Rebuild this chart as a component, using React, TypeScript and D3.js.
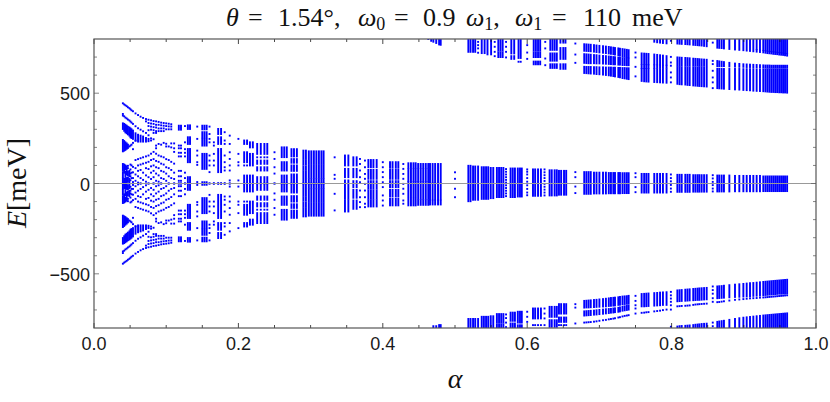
import React from "react";
import { scaleLinear } from "d3";

type Level = number | [number, number];
type Block = [number[], Level[]];

const xTicks = [0, 0.2, 0.4, 0.6, 0.8, 1];
const xMinor = [0.05, 0.1, 0.15, 0.25, 0.3, 0.35, 0.45, 0.5, 0.55, 0.65, 0.7, 0.75, 0.85, 0.9, 0.95];
const yTicks = [-500, 0, 500];
const yMinor = [-700, -600, -400, -300, -200, -100, 100, 200, 300, 400, 600, 700];

// butterfly part, alpha < 1/3, only E >= 0 is listed, the lower half is the mirror
const wing: Block[] = [
  [[0.04], [444, 385, 376, [333, 302], [241, 178], [108, 70], [60, 35], [28, 0]]],
  [[0.0418], [438, 372, [330, 292], [235, 182], [105, 60], [25, 0]]],
  [[0.0435], [433, 365, [325, 283], [228, 186], [100, 80], [65, 40], [30, 0]]],
  [[0.0453], [428, 360, [320, 278], [222, 192], [95, 50], [30, 5]]],
  [[0.047], [422, 354, [314, 272], [215, 197], 98, 85, [65, 45], [32, 10]]],
  [[0.049], [417, 349, [310, 265], 205, [70, 40], [25, 5]]],
  [[0.0505], [411, 343, [305, 256], 210, 105, 78, 55, 40, 18]],
  [[0.052], [405, 337, [300, 252], 215, 100, 60, 30]],
  [[0.054], [400, 330, [293, 247], 225, 190, 92, 62, 30, 8]],
  [[0.0575], [388, 317, [278, 238], 237, 130, 85, 50, 15]],
  [[0.061], [379, 306, [270, 232], 135, 100, 70, 40, 5]],
  [[0.0645], [370, 298, [265, 232], 140, 105, 75, 30, 0]],
  [[0.068], [363, 289, [260, 232], 145, 110, 60, 20]],
  [[0.072], [357, 344, 280, [252, 232], 150, 115, 85, 45, 10]],
  [[0.0755], [353, 335, 318, 295, 267, [247, 234], 155, 120, 80, 35, 0]],
  [[0.079], [350, 332, 315, 298, 250, 238, 165, 130, 95, 60, 25]],
  [[0.0825], [346, 330, 312, 295, 280, 245, 175, 135, 100, 70, 35, 0]],
  [[0.086], [344, 325, 310, 290, 280, 210, 195, 165, 125, 90, 55, 15]],
  [[0.0895], [341, 325, 305, 290, 219, 155, 120, 85, 45, 10]],
  [[0.093], [337, 322, 305, 290, 215, 150, 110, 70, 30, 0]],
  [[0.0965], [335, 320, 305, 290, 225, 145, 105, 65, 25]],
  [[0.1], [333, 318, 300, 220, 205, 135, 90, 55, 15]],
  [[0.1035], [331, 316, 300, 205, 130, 85, 40, 0]],
  [[0.107], [328, 315, 300, 222, 200, 120, 75, 30]],
  [[0.111], [222, 195, 175, 110, 60, 25, 0]],
  [[0.1175, 0.1205], [[320, 298], 210, 195, 170, 150, 70, 40, 15, 0]],
  [[0.126], [318, 228, 190, 170, 150, 60, 30, 0]],
  [[0.13, 0.133], [[322, 302], [256, 219], [191, 118], [35, 0]]],
  [[0.143], [315, 247, 182, 155, 118, 103, 8]],
  [[0.15, 0.153, 0.156], [[320, 300], [284, 256], [247, 210], [164, 81], 7]],
  [[0.16], [315, 274, 247, 228, 155, 127, 100, 63, 0]],
  [[0.166], [228, 210, 164, 127, 100, 2]],
  [[0.172, 0.176], [[302, 274], [256, 219], [191, 63], 2]],
  [[0.181], [284, 238, 219, 155, 118, 90, 72, 2]],
  [[0.188], [265, 219, 173, 136, 100, 72, 17, 0]],
  [[0.2], [247, 164, 118, 100, 17]],
  [[0.208, 0.212], [[238, 219], [173, 118], 100, [44, 0]]],
  [[0.216, 0.22], [[228, 200], [164, 100], [44, 0]]],
  [[0.226, 0.231, 0.236, 0.24], [[219, 164], 145, [127, 109], [90, 72], [35, 0]]],
  [[0.25], [173, 136, 90, 55, 0]],
  [[0.26, 0.2635, 0.267], [[200, 146], [118, 72], [44, 0]]],
  [[0.2735, 0.277, 0.281], [[190, 150], [135, 115], [100, 70], [50, 0]]],
  [[0.29, 0.2935], [[182, 140], [130, 105], [95, 75], [65, 0]]],
  [[0.2975, 0.301, 0.3045, 0.308, 0.3115, 0.315, 0.318], [[178, 108], [98, 32], [24, 0]]],
];

const center: Block[] = [
  [[0.3333], [145, 48, 26, -57, -149]],
  [[0.3476, 0.3523], [[155, 100], [81, 35], [17, -20], [-30, -85], [-94, -155]]],
  [[0.3592, 0.3638], [[145, 100], [81, 35], [13, -20], [-35, -79], [-94, -140]]],
  [[0.3684], [136, 108, 72, 35, 7, -39, -76, -103, -131]],
  [[0.3753], [127, 90, 53, 26, -2, -39, -76, -112, -131]],
  [[0.38, 0.3835, 0.387, 0.3915], [[130, 90], [75, 26], [13, -29], [-39, -85], [-94, -127]]],
  [[0.4], [118, 90, 63, 35, 7, -20, -66, -94, -122]],
  [[0.41, 0.4135, 0.418, 0.4215], [[118, 87], [75, 26], [13, -20], [-35, -72], [-85, -121]]],
  [[0.4284], [108, 81, 53, 26, -2, -29, -57, -94, -112]],
  [[0.4354, 0.439, 0.4425, 0.4455], [[112, 86], [78, 15], [8, -75], [-85, -121]]],
  [[0.449, 0.4525, 0.456, 0.4595, 0.463], [[108, 86], [78, 15], [8, -85], [-93, -118]]],
  [[0.4654, 0.469, 0.4725, 0.4765, 0.4802], [[108, 8], [0, -88], [-95, -116]]],
  [[0.5], [62, 26, -29, -76]],
  [[0.5185, 0.5215], [[98, 5], [-5, -98]]],
  [[0.525, 0.528, 0.532], [[94, 5], [-5, -90]]],
  [[0.537, 0.54, 0.543, 0.546], [[90, 3], [-3, -85]]],
  [[0.5495, 0.553], [[86, 3], [-3, -81]]],
  [[0.558, 0.561, 0.564, 0.567], [[86, 5], [-5, -75]]],
  [[0.5707], [80, 65, 50, 35, 20, 5, -10, -25, -40, -55, -70]],
  [[0.577, 0.58, 0.583], [[83, -75]]],
  [[0.587, 0.59, 0.5925], [[83, -72]]],
  [[0.6], [78, 65, 50, 30, 10, -10, -30, -50, -65]],
  [[0.608, 0.611, 0.615, 0.619], [[78, -68]]],
  [[0.624], [78, 62, 46, 30, 14, -2, -18, -34, -50, -66]],
  [[0.631, 0.634, 0.638, 0.641], [[73, -66]]],
  [[0.644, 0.647, 0.651, 0.654], [[70, -62]]],
  [[0.6667], [63, 35, -17, -53]],
  [[0.679, 0.682, 0.685, 0.688], [[63, -57]]],
  [[0.6925, 0.696, 0.7, 0.705, 0.709], [[60, -55]]],
  [[0.713, 0.716, 0.7193, 0.7216, 0.7262, 0.7285], [[58, -54]]],
  [[0.732, 0.735, 0.738, 0.7405], [[57, -53]]],
  [[0.75], [57, 35, -20, -48]],
  [[0.7585, 0.762, 0.765, 0.768, 0.776, 0.78, 0.784, 0.788, 0.793], [[53, -50]]],
  [[0.799], [50, 30, 12, -8, -28, -46]],
  [[0.808, 0.811, 0.814, 0.819, 0.822, 0.825], [[48, -46]]],
  [[0.83, 0.833, 0.836, 0.8385, 0.8416, 0.845, 0.8486], [[46, -45]]],
  [[0.857], [46, 28, 9, -9, -28, -44]],
  [[0.8633, 0.866, 0.8693, 0.8725, 0.88], [[44, -44]]],
  [[0.8878, 0.8938, 0.8994, 0.904, 0.9086, 0.9132, 0.9178, 0.9224], [[42, -43]]],
  [[0.927, 0.93, 0.9327, 0.9354, 0.9381, 0.9408, 0.9435, 0.9462, 0.949, 0.9517, 0.9544, 0.9571, 0.96], [[39, -42]]],
];

const upper: Block[] = [
  [[0.463], [800]],
  [[0.467], [[800, 790]]],
  [[0.47], [[800, 785]]],
  [[0.474], [[800, 778]]],
  [[0.478], [[800, 770]]],
  [[0.4802], [[800, 768]]],
  [[0.5185, 0.5215, 0.525, 0.528], [[800, 729]]],
  [[0.532], [784, 766, 748, 724]],
  [[0.537, 0.541], [[800, 722]]],
  [[0.545, 0.55], [[800, 715]]],
  [[0.555], [784, 757, 729, 705]],
  [[0.56, 0.563, 0.566], [[800, 735], [725, 700]]],
  [[0.5707], [784, 757, 729, 698]],
  [[0.578, 0.582], [[795, 720], [705, 690]]],
  [[0.588, 0.591], [[800, 695], 674]],
  [[0.6], [766, 725, 690]],
  [[0.609, 0.612, 0.615, 0.618], [[795, 735], [725, 700], [675, 660]]],
  [[0.625], [784, 748, 692, 655]],
  [[0.632, 0.635, 0.638, 0.641], [[800, 740], [720, 680], [660, 640]]],
  [[0.646, 0.65, 0.653], [[800, 780], [750, 690], [660, 635]]],
  [[0.6667], [775, 714, 668]],
  [[0.679], [[771, 735], [716, 668], [646, 612]]],
  [[0.682], [[770, 734], [715, 667], [645, 611]]],
  [[0.685], [[769, 733], [714, 666], [645, 610]]],
  [[0.688], [[768, 732], [713, 666], [645, 609]]],
  [[0.6925], [[766, 730], [711, 666], [644, 608]]],
  [[0.696], [[764, 728], [710, 665], [644, 606]]],
  [[0.7], [[762, 726], [708, 665], [643, 605]]],
  [[0.705], [[760, 724], [706, 664], [643, 603]]],
  [[0.709], [[758, 722], [705, 663], [642, 601]]],
  [[0.713], [[756, 720], [703, 662], [642, 599]]],
  [[0.716], [[754, 718], [702, 661], [642, 597]]],
  [[0.7193], [[752, 716], [700, 660], [641, 595]]],
  [[0.7216], [[750, 714], [699, 660], [641, 593]]],
  [[0.7262], [[748, 710], [697, 658], [640, 590]]],
  [[0.7285], [[746, 708], [696, 658], [640, 588]]],
  [[0.732], [[744, 704], [694, 656], [639, 584]]],
  [[0.735], [[742, 702], [693, 656], [639, 582]]],
  [[0.738], [[740, 700], [692, 655], [638, 580]]],
  [[0.7405], [[738, 698], [691, 655], [638, 578]]],
  [[0.75], [725, 698, 646, 593]],
  [[0.7585], [[720, 662], [655, 640], [634, 568]]],
  [[0.762], [[719, 662], [655, 640], [634, 566]]],
  [[0.765], [[718, 661], [654, 640], [634, 565]]],
  [[0.768], [[717, 660], [654, 640], [633, 564]]],
  [[0.776], [[799, 785], [714, 660], [654, 640], [633, 562]]],
  [[0.78], [[799, 782], [712, 660], [653, 640], [632, 561]]],
  [[0.784], [[800, 780], [710, 659], [653, 640], [632, 560]]],
  [[0.788], [[800, 778], [708, 658], [652, 640], [632, 559]]],
  [[0.793], [[800, 776], [705, 658], [652, 640], [631, 558]]],
  [[0.799], [790, 701, 670, 652, 615, 587, 560]],
  [[0.808], [[800, 775], [698, 655], [645, 552]]],
  [[0.811], [[800, 774], [697, 655], [645, 550]]],
  [[0.814], [[800, 773], [696, 654], [644, 549]]],
  [[0.819], [[800, 772], [695, 654], [644, 548]]],
  [[0.822], [[800, 771], [694, 653], [643, 546]]],
  [[0.825], [[800, 770], [693, 653], [643, 545]]],
  [[0.83], [[800, 768], [691, 652], [642, 543]]],
  [[0.833], [[800, 767], [690, 652], [642, 542]]],
  [[0.836], [[800, 766], [689, 652], [641, 541]]],
  [[0.8385], [[800, 765], [688, 651], [641, 540]]],
  [[0.8416], [[800, 764], [687, 651], [641, 539]]],
  [[0.845], [[800, 762], [686, 651], [640, 538]]],
  [[0.8486], [[800, 760], [685, 650], [640, 537]]],
  [[0.857], [780, 679, 661, 624, 587, 560, 528]],
  [[0.8633], [[800, 752], [678, 650], [635, 528]]],
  [[0.866], [[800, 751], [676, 650], [635, 527]]],
  [[0.8693], [[800, 750], [674, 650], [635, 526]]],
  [[0.8725], [[800, 748], [672, 650], [634, 525]]],
  [[0.88], [[800, 745], [668, 648], [634, 523]]],
  [[0.8878], [[800, 742], [664, 647], [634, 521]]],
  [[0.8938], [[800, 740], [662, 646], [634, 520]]],
  [[0.8994], [[800, 738], [660, 646], [633, 518]]],
  [[0.904], [[800, 736], [659, 645], [633, 517]]],
  [[0.9086], [[800, 734], [658, 645], [633, 516]]],
  [[0.9132], [[800, 732], [657, 644], [633, 514]]],
  [[0.9178], [[800, 744], [738, 730], [656, 644], [632, 513]]],
  [[0.9224], [[800, 742], [736, 728], [655, 644], [632, 512]]],
  [[0.927], [[800, 740], [734, 726], [654, 643], [632, 511]]],
  [[0.93], [[800, 738], [732, 724], [653, 643], [632, 510]]],
  [[0.9327], [[800, 736], [730, 722], [653, 642], [632, 509]]],
  [[0.9354], [[800, 735], [729, 721], [653, 642], [632, 508]]],
  [[0.9381], [[800, 734], [728, 720], [652, 642], [632, 507]]],
  [[0.9408], [[800, 732], [726, 718], [652, 642], [632, 507]]],
  [[0.9435], [[800, 731], [725, 717], [652, 642], [632, 506]]],
  [[0.9462], [[800, 730], [724, 716], [652, 642], [632, 506]]],
  [[0.949], [[800, 728], [722, 714], [652, 642], [632, 505]]],
  [[0.9517], [[800, 727], [721, 713], [652, 642], [632, 505]]],
  [[0.9544], [[800, 726], [720, 712], [652, 642], [632, 504]]],
  [[0.9571], [[800, 724], [718, 710], [652, 642], [632, 504]]],
  [[0.96], [[800, 722], [716, 708], [652, 642], [632, 503]]],
];

const lower: Block[] = [
  [[0.47, 0.474], [[-790, -800]]],
  [[0.478, 0.4802], [[-784, -800]]],
  [[0.5185, 0.5215, 0.525, 0.528, 0.532], [[-750, -800]]],
  [[0.537, 0.54, 0.543, 0.546], [[-738, -800]]],
  [[0.5495, 0.553], [[-735, -800]]],
  [[0.558, 0.561, 0.564, 0.567], [[-723, -770], [-780, -800]]],
  [[0.5707], [-725, -745, -770, -795]],
  [[0.577, 0.58, 0.583], [[-715, -760], [-775, -800]]],
  [[0.587, 0.59, 0.5925], [[-710, -770], [-785, -800]]],
  [[0.6], [-710, -738, -766]],
  [[0.608, 0.611, 0.615, 0.619], [[-692, -747], -784]],
  [[0.624], [-692, -720, -747, -784]],
  [[0.631, 0.634, 0.638, 0.641], [[-683, -738], [-757, -793]]],
  [[0.644, 0.647, 0.651, 0.654], [[-668, -720], [-742, -766], -784]],
  [[0.6667], [-668, -687, -775]],
  [[0.679], [[-650, -687], [-708, -731], -770]],
  [[0.682], [[-649, -686], [-707, -730], -769]],
  [[0.685], [[-648, -686], [-706, -729], -768]],
  [[0.688], [[-647, -685], [-705, -728], -767]],
  [[0.6925], [[-645, -684], [-704, -726], -765]],
  [[0.696], [[-644, -683], [-702, -725], -763]],
  [[0.7], [[-642, -682], [-700, -723], -760]],
  [[0.705], [[-640, -681], [-698, -721], -757]],
  [[0.709], [[-638, -680], [-696, -719], -755]],
  [[0.713], [[-636, -678], [-695, -717], -752]],
  [[0.716], [[-634, -677], [-694, -715], -750]],
  [[0.7193], [[-633, -676], [-692, -714], -748]],
  [[0.7216], [[-632, -675], [-691, -712], -746]],
  [[0.7262], [[-630, -672], [-688, -710], -742]],
  [[0.7285], [[-628, -671], [-686, -708], -740]],
  [[0.732], [[-626, -668], [-682, -704], -736]],
  [[0.735], [[-625, -667], [-680, -702], -733]],
  [[0.738], [[-624, -666], [-678, -700], -731]],
  [[0.7405], [[-622, -665], [-676, -698], -729]],
  [[0.75], [-622, -650, -674, -692, -720]],
  [[0.7585], [[-612, -680], -716]],
  [[0.762], [[-611, -680], -715]],
  [[0.765], [[-610, -679], -713]],
  [[0.768], [[-609, -678], -712]],
  [[0.776], [[-607, -676], -708]],
  [[0.78], [[-606, -675], -706]],
  [[0.784], [[-604, -674], -704]],
  [[0.788], [[-603, -672], -701]],
  [[0.793], [[-602, -672], -698]],
  [[0.799], [-600, -619, -637, -655, -674, -698, -793]],
  [[0.808], [[-592, -652], -680, [-792, -800]]],
  [[0.811], [[-591, -651], -679, [-790, -800]]],
  [[0.814], [[-590, -650], -678, [-789, -800]]],
  [[0.819], [[-588, -649], -677, [-788, -800]]],
  [[0.822], [[-587, -648], -676, [-787, -800]]],
  [[0.825], [[-586, -647], -675, [-786, -800]]],
  [[0.83], [[-584, -646], -672, [-784, -800]]],
  [[0.833], [[-583, -645], -670, [-782, -800]]],
  [[0.836], [[-582, -644], -669, [-781, -800]]],
  [[0.8385], [[-581, -644], -668, [-780, -800]]],
  [[0.8416], [[-580, -643], -667, [-778, -800]]],
  [[0.845], [[-579, -642], -666, [-777, -800]]],
  [[0.8486], [[-578, -641], -665, [-776, -800]]],
  [[0.857], [-570, -590, -610, -635, -655, -770, -790]],
  [[0.8633], [[-570, -635], -657, [-766, -800]]],
  [[0.866], [[-569, -634], -656, [-764, -800]]],
  [[0.8693], [[-568, -633], -654, [-762, -800]]],
  [[0.8725], [[-566, -632], -652, [-760, -800]]],
  [[0.88], [[-563, -630], -648, [-755, -800]]],
  [[0.8878], [[-560, -628], -644, [-750, -800]]],
  [[0.8938], [[-558, -627], -642, [-746, -800]]],
  [[0.8994], [[-556, -626], -640, [-743, -800]]],
  [[0.904], [[-554, -625], -638, [-741, -800]]],
  [[0.9086], [[-552, -624], -636, [-739, -800]]],
  [[0.9132], [[-551, -622], -635, [-737, -800]]],
  [[0.9178], [[-549, -621], -634, [-735, -800]]],
  [[0.9224], [[-547, -620], -632, [-733, -800]]],
  [[0.927], [[-545, -618], -631, [-731, -800]]],
  [[0.93], [[-544, -617], -630, [-730, -800]]],
  [[0.9327], [[-543, -616], -629, [-729, -800]]],
  [[0.9354], [[-542, -615], -628, [-728, -800]]],
  [[0.9381], [[-541, -614], -627, [-727, -800]]],
  [[0.9408], [[-540, -613], -626, [-726, -800]]],
  [[0.9435], [[-539, -612], -625, [-725, -800]]],
  [[0.9462], [[-538, -611], -624, [-724, -800]]],
  [[0.949], [[-537, -610], -623, [-723, -800]]],
  [[0.9517], [[-536, -610], -622, [-722, -800]]],
  [[0.9544], [[-535, -609], -621, [-721, -800]]],
  [[0.9571], [[-534, -609], -620, [-720, -800]]],
  [[0.96], [[-533, -608], -619, [-719, -800]]],
];

const mirrorLevel = (l: Level): Level => (Array.isArray(l) ? [-l[0], -l[1]] : -l);
const wingBoth: Block[] = wing.map(([a, e]) => [a, [...e, ...e.map(mirrorLevel)]]);

const width = 830;
const height = 402;
const margin = { top: 39, right: 14, bottom: 74, left: 94 };
const innerWidth = width - margin.left - margin.right;
const innerHeight = height - margin.top - margin.bottom;
const dot = 1.9;
const frameColor = "#555";
const textColor = "#1a1a1a";
const sansFont = "'Liberation Sans', Arial, sans-serif";
const serifFont = "'Liberation Serif', 'DejaVu Serif', serif";

const xScale = scaleLinear().domain([0, 1]).range([margin.left, margin.left + innerWidth]);
const yScale = scaleLinear().domain([-800, 800]).range([margin.top + innerHeight, margin.top]);

const Marks = ({ blocks }: { blocks: Block[] }) => (
  <g fill="#0000ff">
    {blocks.flatMap(([alphas, levels], i) =>
      alphas.flatMap((a) =>
        levels.map((l, j) => {
          const [hi, lo] = Array.isArray(l) ? [Math.max(l[0], l[1]), Math.min(l[0], l[1])] : [l, l];
          return (
            <rect
              key={`${i}-${a}-${j}`}
              x={xScale(a) - dot / 2}
              y={yScale(hi) - dot / 2}
              width={dot}
              height={yScale(lo) - yScale(hi) + dot}
            />
          );
        })
      )
    )}
  </g>
);

export default function App() {
  const x0 = margin.left;
  const x1 = margin.left + innerWidth;
  const y0 = margin.top;
  const y1 = margin.top + innerHeight;
  return (
    <svg width={width} height={height} style={{ position: "absolute", left: 0, top: 0 }}>
      <defs>
        <clipPath id="plot">
          <rect x={x0} y={y0} width={innerWidth} height={innerHeight} />
        </clipPath>
      </defs>
      <g clipPath="url(#plot)">
        <Marks blocks={wingBoth} />
        <Marks blocks={center} />
        <Marks blocks={upper} />
        <Marks blocks={lower} />
      </g>
      <line x1={x0} x2={x1} y1={yScale(0)} y2={yScale(0)} stroke="#999" strokeWidth={1} />
      <g stroke={textColor} strokeWidth={0.8}>
        {xTicks.map((t) => (
          <g key={t}>
            <line x1={xScale(t)} x2={xScale(t)} y1={y1} y2={y1 - 5} />
            <line x1={xScale(t)} x2={xScale(t)} y1={y0} y2={y0 + 5} />
          </g>
        ))}
        {xMinor.map((t) => (
          <g key={t}>
            <line x1={xScale(t)} x2={xScale(t)} y1={y1} y2={y1 - 3} />
            <line x1={xScale(t)} x2={xScale(t)} y1={y0} y2={y0 + 3} />
          </g>
        ))}
      </g>
      <g stroke="#666" strokeWidth={0.8}>
        {yTicks.map((t) => (
          <g key={t}>
            <line x1={x0} x2={x0 + 5} y1={yScale(t)} y2={yScale(t)} />
            <line x1={x1} x2={x1 - 5} y1={yScale(t)} y2={yScale(t)} />
          </g>
        ))}
        {yMinor.map((t) => (
          <g key={t}>
            <line x1={x0} x2={x0 + 3} y1={yScale(t)} y2={yScale(t)} />
            <line x1={x1} x2={x1 - 3} y1={yScale(t)} y2={yScale(t)} />
          </g>
        ))}
      </g>
      <rect x={x0} y={y0} width={innerWidth} height={innerHeight} fill="none" stroke={frameColor} strokeWidth={1.2} />
      <g fontFamily={sansFont} fontSize={18} fill={textColor}>
        {xTicks.map((t) => (
          <text key={t} x={xScale(t)} y={y1 + 22} textAnchor="middle">
            {t.toFixed(1)}
          </text>
        ))}
        {yTicks.map((t) => (
          <text key={t} x={x0 - 4} y={yScale(t) + 7} textAnchor="end">
            {t < 0 ? `\u2212${-t}` : t}
          </text>
        ))}
      </g>
      <text y={26} fontFamily={serifFont} fontSize={26} fill="#111">
        <tspan x={226} fontStyle="italic">θ</tspan>
        <tspan x={248}>=</tspan>
        <tspan x={278}>1.54°,</tspan>
        <tspan x={358} fontStyle="italic">ω</tspan>
        <tspan fontSize={18} dy={4}>0</tspan>
        <tspan x={394} dy={-4}>=</tspan>
        <tspan x={423}>0.9</tspan>
        <tspan x={466} fontStyle="italic">ω</tspan>
        <tspan fontSize={18} dy={4}>1</tspan>
        <tspan dy={-4}>,</tspan>
        <tspan x={515} fontStyle="italic">ω</tspan>
        <tspan fontSize={18} dy={4}>1</tspan>
        <tspan x={552} dy={-4}>=</tspan>
        <tspan x={583}>110</tspan>
        <tspan x={632}>meV</tspan>
      </text>
      <text x={455} y={388} textAnchor="middle" fontFamily={serifFont} fontStyle="italic" fontSize={28} fill="#111">
        α
      </text>
      <text
        transform="translate(26,183) rotate(-90)"
        textAnchor="middle"
        fontFamily={serifFont}
        fontSize={28}
        fill="#111"
      >
        <tspan fontStyle="italic">E</tspan>[meV]
      </text>
    </svg>
  );
}
